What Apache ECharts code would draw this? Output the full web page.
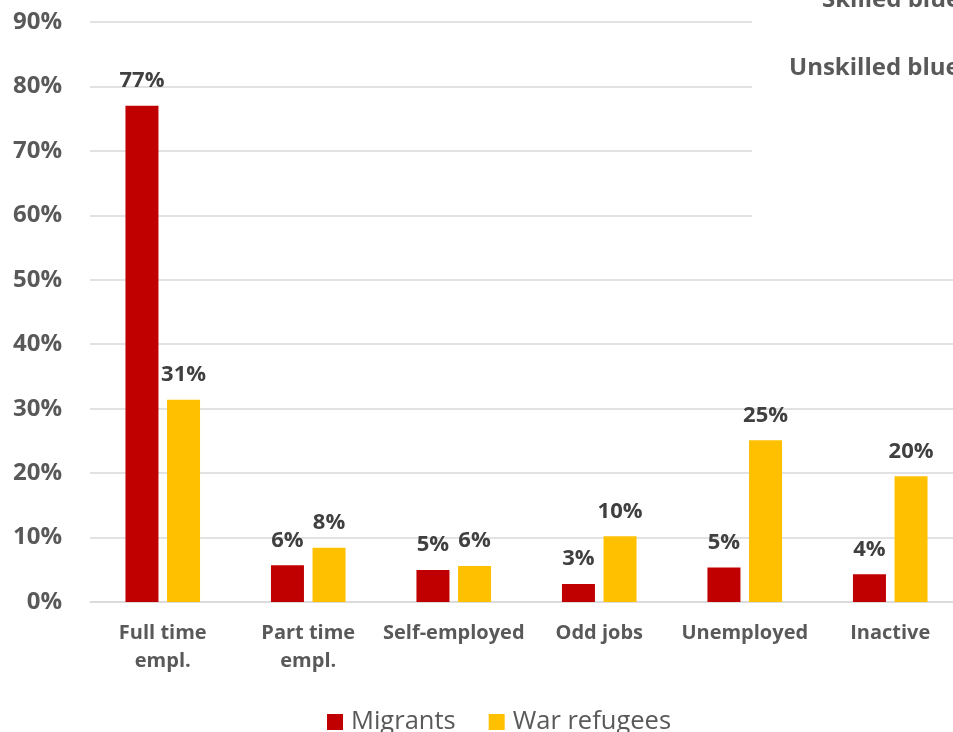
<!DOCTYPE html>
<html>
<head>
<meta charset="utf-8">
<script src="https://cdn.jsdelivr.net/npm/echarts@6/dist/echarts.min.js"></script>
<style>
html,body{margin:0;padding:0;background:#fff;}
#c{width:953px;height:732px;}
</style>
</head>
<body>
<div id="c"></div>
<script>
const categories = ['Full time\nempl.', 'Part time\nempl.', 'Self-employed', 'Odd jobs', 'Unemployed', 'Inactive'];
const migrants = [77, 5.7, 4.95, 2.8, 5.35, 4.3];
const warRefugees = [31.4, 8.4, 5.6, 10.2, 25.1, 19.5];
const seriesNames = ['Migrants', 'War refugees'];
const yTicks = [0, 10, 20, 30, 40, 50, 60, 70, 80, 90];
const sideLabels = ['Skilled blue', 'Unskilled blue'];

const FONT = '"Open Sans", sans-serif';
const TXT = '#595959';

const chart = echarts.init(document.getElementById('c'));
const labelCfg = {
  show: true,
  position: 'top',
  distance: 14,
  fontFamily: FONT,
  fontWeight: 'bold',
  fontSize: 22,
  color: '#404040',
  formatter: p => Math.round(p.value) + '%'
};
chart.setOption({
  animation: false,
  backgroundColor: '#fff',
  grid: { left: 90, width: 873, top: 22, bottom: 130, containLabel: false, outerBoundsMode: 'none' },
  legend: {
    data: seriesNames,
    left: 322,
    top: 704,
    itemWidth: 16,
    itemHeight: 16,
    itemGap: 33,
    icon: 'rect',
    textStyle: { fontFamily: FONT, fontSize: 25.5, color: TXT, padding: [0, 0, 0, 3] }
  },
  xAxis: {
    type: 'category',
    data: categories,
    axisTick: { show: false },
    axisLine: { lineStyle: { color: '#D9D9D9', width: 1.5 } },
    axisLabel: {
      interval: 0,
      margin: 17,
      fontFamily: FONT,
      fontWeight: 'bold',
      fontSize: 20,
      lineHeight: 28,
      color: TXT
    }
  },
  yAxis: {
    type: 'value',
    min: yTicks[0],
    max: yTicks[yTicks.length - 1],
    interval: 10,
    axisLine: { show: false },
    axisTick: { show: false },
    splitLine: { lineStyle: { color: '#D9D9D9', width: 1.5 } },
    axisLabel: {
      margin: 28,
      fontFamily: FONT,
      fontWeight: 'bold',
      fontSize: 24,
      color: TXT,
      formatter: v => v + '%'
    }
  },
  series: [
    { name: seriesNames[0], type: 'bar', data: migrants, barWidth: 33, barGap: '26%',
      itemStyle: { color: '#C00000' }, label: labelCfg },
    { name: seriesNames[1], type: 'bar', data: warRefugees, barWidth: 33,
      itemStyle: { color: '#FFC000' }, label: labelCfg }
  ],
  graphic: [
    { type: 'rect', left: 752, top: 0, z: 100,
      shape: { width: 220, height: 248 }, style: { fill: '#fff' } },
    { type: 'text', left: 822, top: -12, z: 101,
      style: { text: sideLabels[0], fontFamily: FONT, fontWeight: 'bold', fontSize: 24, fill: TXT } },
    { type: 'text', left: 789, top: 56, z: 101,
      style: { text: sideLabels[1], fontFamily: FONT, fontWeight: 'bold', fontSize: 24, fill: TXT } }
  ]
});
</script>
</body>
</html>
